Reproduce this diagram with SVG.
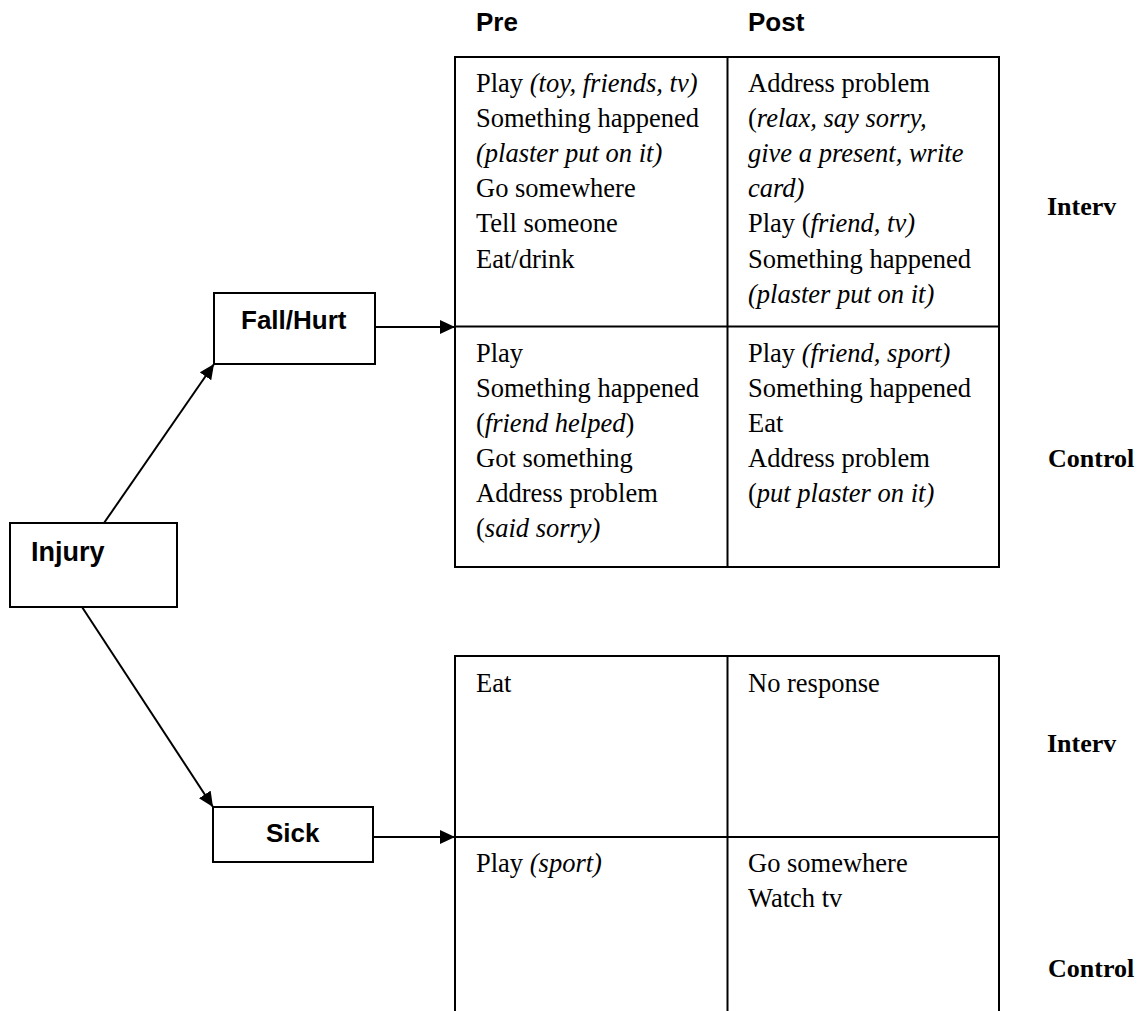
<svg xmlns="http://www.w3.org/2000/svg" width="1147" height="1011" viewBox="0 0 1147 1011">
<style>
.bg{fill:#fff}
.box{fill:#fff;stroke:#000;stroke-width:2}
.grid{fill:none;stroke:#000;stroke-width:2}
.edge{fill:none;stroke:#000;stroke-width:2}
.t{font-family:"Liberation Serif","Times New Roman",serif;font-size:26.5px;fill:#000}
.i{font-style:italic}
.tb{font-family:"Liberation Serif","Times New Roman",serif;font-size:26px;font-weight:bold;fill:#000}
.sb{font-family:"Liberation Sans",Arial,sans-serif;font-size:26px;font-weight:bold;fill:#000}
</style>
<defs>
<marker id="arr" viewBox="0 0 15 14" refX="15" refY="7" markerWidth="15" markerHeight="14" markerUnits="userSpaceOnUse" orient="auto">
<path d="M0,0 L15,7 L0,14 Z" fill="#000"/>
</marker>
</defs>
<rect class="bg" x="0" y="0" width="1147" height="1011"/>

<g id="headers">
<text class="sb" x="476" y="31">Pre</text>
<text class="sb" x="748" y="31">Post</text>
</g>

<g id="injury">
<rect class="box" x="10" y="523" width="167" height="84"/>
<text class="sb" x="31" y="561" style="font-size:27px">Injury</text>
</g>

<g id="fallhurt">
<rect class="box" x="214" y="293" width="161" height="71"/>
<text class="sb" x="241" y="329">Fall/Hurt</text>
</g>

<g id="sick">
<rect class="box" x="213" y="807" width="160" height="55"/>
<text class="sb" x="266" y="842">Sick</text>
</g>

<g id="table-fall">
<path class="grid" d="M455,57 H999 V567 H455 Z M727.5,57 V567 M455,326.5 H999"/>
<text class="t" x="476" y="92">Play <tspan class="i">(toy, friends, tv)</tspan></text>
<text class="t" x="476" y="127">Something happened</text>
<text class="t i" x="476" y="162">(plaster put on it)</text>
<text class="t" x="476" y="197">Go somewhere</text>
<text class="t" x="476" y="232">Tell someone</text>
<text class="t" x="476" y="268">Eat/drink</text>
<text class="t" x="748" y="92">Address problem</text>
<text class="t" x="748" y="127">(<tspan class="i">relax, say sorry,</tspan></text>
<text class="t i" x="748" y="162">give a present, write</text>
<text class="t i" x="748" y="197">card)</text>
<text class="t" x="748" y="232">Play (<tspan class="i">friend, tv)</tspan></text>
<text class="t" x="748" y="268">Something happened</text>
<text class="t i" x="748" y="303">(plaster put on it)</text>
<text class="t" x="476" y="362">Play</text>
<text class="t" x="476" y="397">Something happened</text>
<text class="t" x="476" y="432">(<tspan class="i">friend helped</tspan>)</text>
<text class="t" x="476" y="467">Got something</text>
<text class="t" x="476" y="502">Address problem</text>
<text class="t" x="476" y="537">(<tspan class="i">said sorry)</tspan></text>
<text class="t" x="748" y="362">Play <tspan class="i">(friend, sport)</tspan></text>
<text class="t" x="748" y="397">Something happened</text>
<text class="t" x="748" y="432">Eat</text>
<text class="t" x="748" y="467">Address problem</text>
<text class="t" x="748" y="502">(<tspan class="i">put plaster on it)</tspan></text>
<text class="tb" x="1047" y="215">Interv</text>
<text class="tb" x="1048" y="467">Control</text>
</g>

<g id="table-sick">
<path class="grid" d="M455,1012 V656 H999 V1012 M727.5,656 V1012 M455,837 H999"/>
<text class="t" x="476" y="692">Eat</text>
<text class="t" x="748" y="692">No response</text>
<text class="t" x="476" y="872">Play <tspan class="i">(sport)</tspan></text>
<text class="t" x="748" y="872">Go somewhere</text>
<text class="t" x="748" y="907">Watch tv</text>
<text class="tb" x="1047" y="752">Interv</text>
<text class="tb" x="1048" y="977">Control</text>
</g>

<g id="connectors">
<line class="edge" x1="104" y1="523" x2="214" y2="364" marker-end="url(#arr)"/>
<line class="edge" x1="82" y1="607" x2="213" y2="807" marker-end="url(#arr)"/>
<line class="edge" x1="375" y1="327" x2="455" y2="327" marker-end="url(#arr)"/>
<line class="edge" x1="373" y1="837" x2="455" y2="837" marker-end="url(#arr)"/>
</g>
</svg>
